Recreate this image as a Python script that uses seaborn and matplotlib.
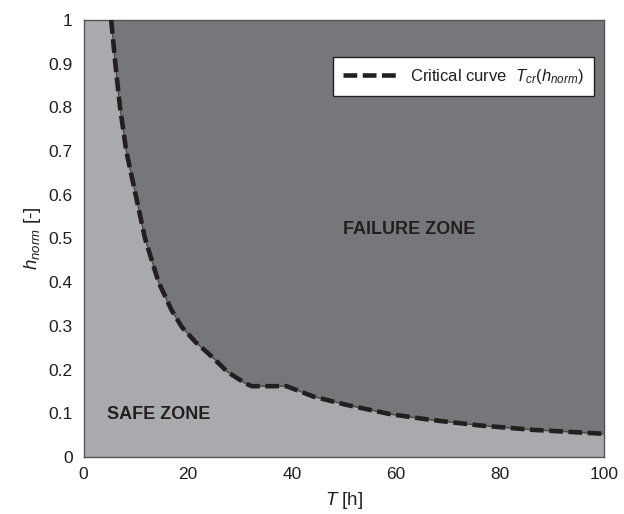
import matplotlib
matplotlib.use("Agg")
import matplotlib.pyplot as plt
import seaborn as sns
import numpy as np
import pandas as pd

# Data
T_vals = [5.3, 6.1, 7.0, 8.2, 10.0, 11.8, 14.4, 16.9, 18.9, 21.5, 24.6, 27.6,
          31.0, 32.3, 35.5, 39.0, 44.2, 50.6, 58.9, 66.6, 76.2, 86.4, 100.0]
h_vals = [1.0, 0.9, 0.8, 0.7, 0.6, 0.5, 0.4, 0.336, 0.297, 0.263, 0.23, 0.195,
          0.169, 0.162, 0.162, 0.162, 0.138, 0.119, 0.098, 0.085, 0.072, 0.062, 0.053]
x_ticks = [0, 20, 40, 60, 80, 100]
y_ticks = [0, 0.1, 0.2, 0.3, 0.4, 0.5, 0.6, 0.7, 0.8, 0.9, 1.0]
y_tick_labels = ["0", "0.1", "0.2", "0.3", "0.4", "0.5", "0.6", "0.7", "0.8", "0.9", "1"]
legend_label = r"Critical curve  $\mathit{T}_{\mathit{cr}}(\mathit{h}_{\mathit{norm}})$"

df = pd.DataFrame({"T": T_vals, "h": h_vals})

sns.set_theme(style="white")
plt.rcParams["font.family"] = ["Liberation Sans", "DejaVu Sans"]
plt.rcParams["mathtext.fontset"] = "custom"
plt.rcParams["mathtext.rm"] = "Liberation Sans"
plt.rcParams["mathtext.it"] = "Liberation Sans:italic"
plt.rcParams["mathtext.bf"] = "Liberation Sans:bold"

fig = plt.figure(figsize=(6.24, 5.14), dpi=100)
ax = fig.add_axes([0.134, 0.111, 0.834, 0.850])

safe_col = "#a9aaae"
fail_col = "#76777b"
ax.set_facecolor(safe_col)

Tc = np.array(T_vals)
hc = np.array(h_vals)
# failure zone: right of / above the curve
ax.fill_betweenx(hc, Tc, 100, color=fail_col, lw=0, zorder=1)
ax.fill_between([Tc[-1], 100], hc[-1], 1, color=fail_col, lw=0, zorder=1)

# thin boundary line under dashes
ax.plot(Tc, hc, color="#4a4a4c", lw=1.0, zorder=2)
sns.lineplot(data=df, x="T", y="h", ax=ax, color="#231f20", lw=3.3,
             sort=False, estimator=None, zorder=3, label=legend_label)
ln = ax.get_lines()[-1]
ln.set_dashes((3.0, 1.2))
ln.set_solid_capstyle("butt")

ax.set_xlim(0, 100)
ax.set_ylim(0, 1)
ax.set_xticks(x_ticks)
ax.set_xticklabels([str(v) for v in x_ticks])
ax.set_yticks(y_ticks)
ax.set_yticklabels(y_tick_labels)
ax.tick_params(axis="y", direction="in", length=4, width=0.8, color="#333333",
               labelsize=12.5, labelcolor="#231f20", pad=8)
ax.tick_params(axis="x", direction="in", length=4, width=0.8, color="#333333",
               labelsize=12.5, labelcolor="#231f20", pad=7)

for s in ax.spines.values():
    s.set_visible(True)
    s.set_color("#555555")
    s.set_linewidth(1.0)

ax.set_xlabel(r"$\mathit{T}$ [h]", fontsize=13.5, color="#231f20", labelpad=6)
ax.set_ylabel(r"$\mathit{h}_{\mathit{norm}}$ [-]", fontsize=13.5, color="#231f20", labelpad=4)

ax.text(62.5, 0.52, "FAILURE ZONE", fontsize=13, fontweight="bold",
        color="#231f20", ha="center", va="center", zorder=4)
ax.text(14.4, 0.098, "SAFE ZONE", fontsize=13, fontweight="bold",
        color="#231f20", ha="center", va="center", zorder=4)

leg = ax.legend(loc="upper right", bbox_to_anchor=(0.98, 0.915), fontsize=12,
                frameon=True, fancybox=False, framealpha=1, edgecolor="#231f20",
                handlelength=3.4, borderpad=0.6, handletextpad=0.6,
                borderaxespad=0.0)
leg.get_frame().set_linewidth(1.0)
leg.get_frame().set_facecolor("white")
for t in leg.get_texts():
    t.set_color("#231f20")

fig.savefig("out.png", dpi=100, facecolor="white")
